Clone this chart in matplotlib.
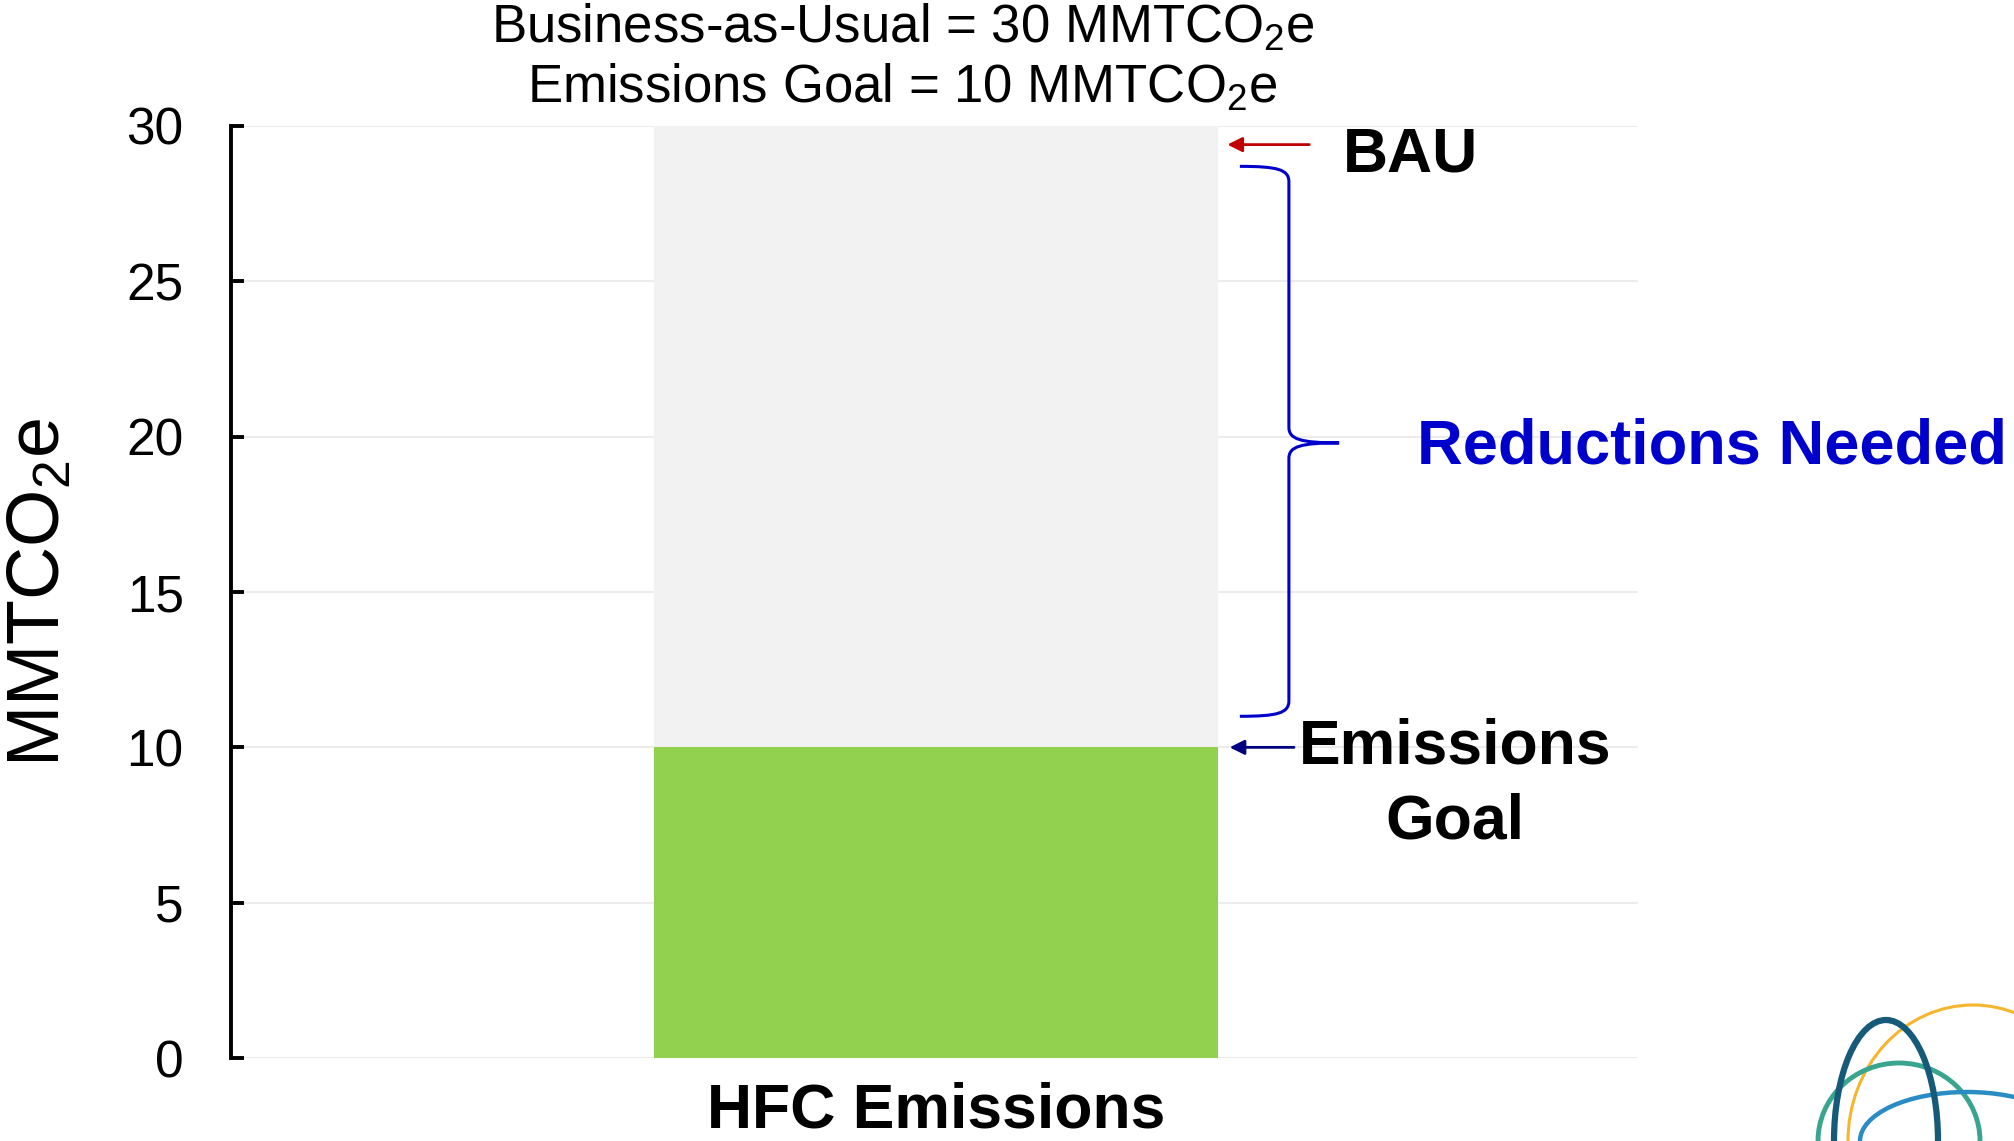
import matplotlib.pyplot as plt
from matplotlib.path import Path
from matplotlib.patches import PathPatch, Arc

plt.rcParams["font.family"] = ["Liberation Sans", "DejaVu Sans"]
plt.rcParams["mathtext.default"] = "regular"

# chart data
categories = ["HFC Emissions"]
bauValue = [30]
goalValue = [10]
reductionValue = [b - g for b, g in zip(bauValue, goalValue)]
yTicks = [0, 5, 10, 15, 20, 25, 30]
titleLines = ["Business-as-Usual = 30 MMTCO$_2$e", "Emissions Goal = 10 MMTCO$_2$e"]

fig = plt.figure(figsize=(20.15, 11.41), dpi=100, facecolor="white")
ax = fig.add_axes([0.1146, 0.0727, 0.6983, 0.8169])

ax.bar(categories, goalValue, width=1, color="#92d050", zorder=2)
ax.bar(categories, reductionValue, width=1, bottom=goalValue, color="#f2f2f2", zorder=2)

ax.set_xlim(-1.25, 1.245)
ax.set_ylim(0, 30)
ax.set_yticks(yTicks)
ax.grid(axis="y", color="#ececec", linewidth=1.5, zorder=0)
ax.set_axisbelow(True)
for side in ["top", "right", "bottom"]:
    ax.spines[side].set_visible(False)
ax.spines["left"].set_linewidth(2.8)
ax.tick_params(axis="y", direction="in", length=9, width=2.8, pad=34, labelsize=37)
ax.tick_params(axis="x", length=0, pad=17, labelsize=45)
for lbl in ax.get_xticklabels():
    lbl.set_fontweight("bold")

ax.set_ylabel("MMTCO$_2$e", fontsize=53)
ax.yaxis.set_label_coords(-0.111, 0.5)

# title lines
fig.text(0.448, 1 - 28 / 1141, titleLines[0], ha="center", va="center", fontsize=38)
fig.text(0.448, 1 - 88 / 1141, titleLines[1], ha="center", va="center", fontsize=38)

# BAU arrow and label
bauY = 29.4
ax.annotate("", xy=(0.512, bauY), xytext=(0.667, bauY),
            arrowprops=dict(arrowstyle="-|>", color="#c00000", lw=2, mutation_scale=22))
ax.text(0.722, bauY - 0.35, "BAU", fontsize=45, fontweight="bold", va="center", ha="left")

# Emissions goal arrow and label
ax.annotate("", xy=(0.516, goalValue[0]), xytext=(0.64, goalValue[0]),
            arrowprops=dict(arrowstyle="-|>", color="#000080", lw=2, mutation_scale=22))
ax.text(0.92, goalValue[0] - 1.2, "Emissions\nGoal", fontsize=45, fontweight="bold",
        va="center", ha="center", linespacing=1.34)

# brace for reductions
xl, xv, xt = 0.539, 0.626, 0.715
yTop, yBot, yMid = 28.7, 11.0, 19.8
verts = [(xl, yTop), (xv - 0.02, yTop), (xv, yTop - 0.1), (xv, yTop - 0.5),
         (xv, yMid + 0.5),
         (xv, yMid + 0.12), (xv + 0.02, yMid), (xt, yMid),
         (xv + 0.02, yMid), (xv, yMid - 0.12), (xv, yMid - 0.5),
         (xv, yBot + 0.5),
         (xv, yBot + 0.1), (xv - 0.02, yBot), (xl, yBot)]
codes = [Path.MOVETO, Path.CURVE4, Path.CURVE4, Path.CURVE4,
         Path.LINETO,
         Path.CURVE4, Path.CURVE4, Path.CURVE4,
         Path.CURVE4, Path.CURVE4, Path.CURVE4,
         Path.LINETO,
         Path.CURVE4, Path.CURVE4, Path.CURVE4]
ax.add_patch(PathPatch(Path(verts, codes), facecolor="none", edgecolor="#0000cc", lw=2.2,
                       clip_on=False, zorder=3))
ax.text(0.853, yMid - 0.13, "Reductions Needed", fontsize=45.5, fontweight="bold",
        color="#0000cc", va="center", ha="left")

# logo arcs in bottom right corner
logo = fig.add_axes([0, 0, 1, 1], facecolor="none")
logo.set_xlim(0, 2015)
logo.set_ylim(0, 1141)
logo.axis("off")
logo.add_patch(Arc((1973, 0), 250, 272, theta1=0, theta2=180, color="#f5b52e", lw=2.2))
logo.add_patch(Arc((1899, 0), 162, 156, theta1=0, theta2=180, color="#3aa58f", lw=3.5))
logo.add_patch(Arc((1967, 0), 214, 98, theta1=0, theta2=180, color="#2a8cc4", lw=3.2))
logo.add_patch(Arc((1886, 0), 104, 242, theta1=0, theta2=180, color="#165a7a", lw=4.5))

fig.savefig("out.png", dpi=100)
